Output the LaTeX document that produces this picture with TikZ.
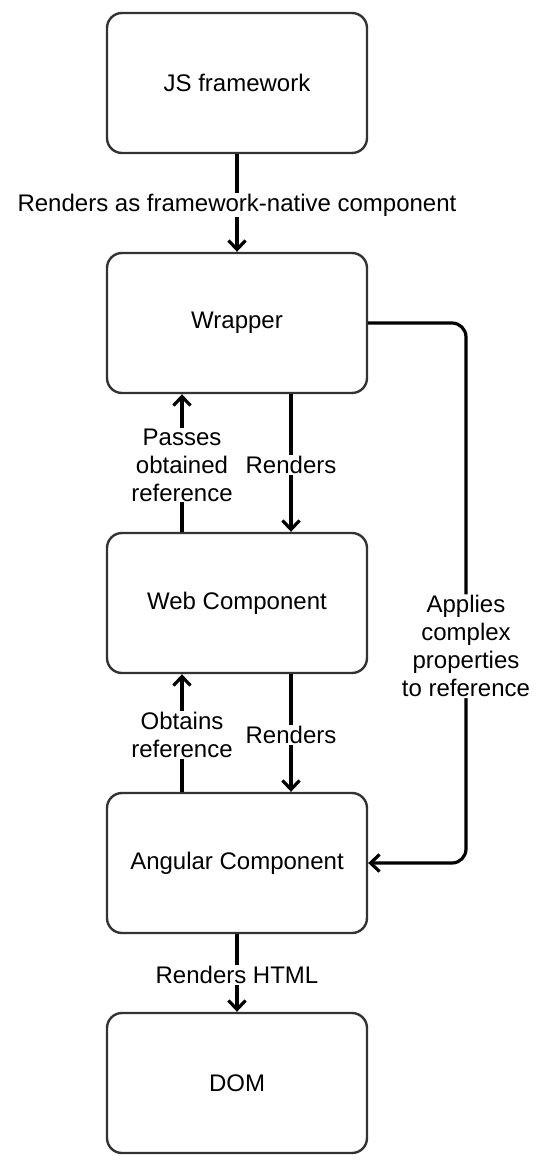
\documentclass[tikz,border=0pt]{standalone}
\usepackage{fontspec}
\setmainfont{Liberation Sans}
\usetikzlibrary{arrows.meta}
\begin{document}
\begin{tikzpicture}[x=1pt,y=-1pt,
  box/.style={draw=black!80, line width=2.4pt, rounded corners=15pt, minimum width=260pt, minimum height=140pt, inner sep=0pt, font=\fontsize{24}{28}\selectfont},
  arr/.style={draw=black, line width=3.2pt, -{Straight Barb[length=9pt,width=17pt,line width=3.2pt]}},
  lbl/.style={fill=white, inner sep=1pt, align=center, yshift=-2pt, font=\fontsize{24}{28}\selectfont}]
\useasboundingbox (0,0) rectangle (551,1167);
\node[box] (js) at (237,83) {JS framework};
\node[box] (wr) at (237,323) {Wrapper};
\node[box] (wc) at (237,603) {Web Component};
\node[box] (ac) at (237,863) {Angular Component};
\node[box] (dom) at (237,1083) {DOM};
\draw[arr] (js) -- node[lbl]{Renders as framework-native component} (wr);
\draw[arr] ([xshift=54pt]wr.south) -- node[lbl]{Renders} ([xshift=54pt]wc.north);
\draw[arr] ([xshift=-55pt]wc.north) -- node[lbl]{Passes\\obtained\\reference} ([xshift=-55pt]wr.south);
\draw[arr] ([xshift=54pt]wc.south) -- node[lbl]{Renders} ([xshift=54pt]ac.north);
\draw[arr] ([xshift=-55pt]ac.north) -- node[lbl]{Obtains\\reference} ([xshift=-55pt]wc.south);
\draw[arr] (ac) -- node[lbl]{Renders HTML} (dom);
\coordinate (c1) at (466,323);
\coordinate (c2) at (466,863);
\draw[arr, rounded corners=14pt] (wr.east) -- (c1) -- node[lbl, pos=0.595]{Applies\\complex\\properties\\to reference} (c2) -- (ac.east);
\end{tikzpicture}
\end{document}
